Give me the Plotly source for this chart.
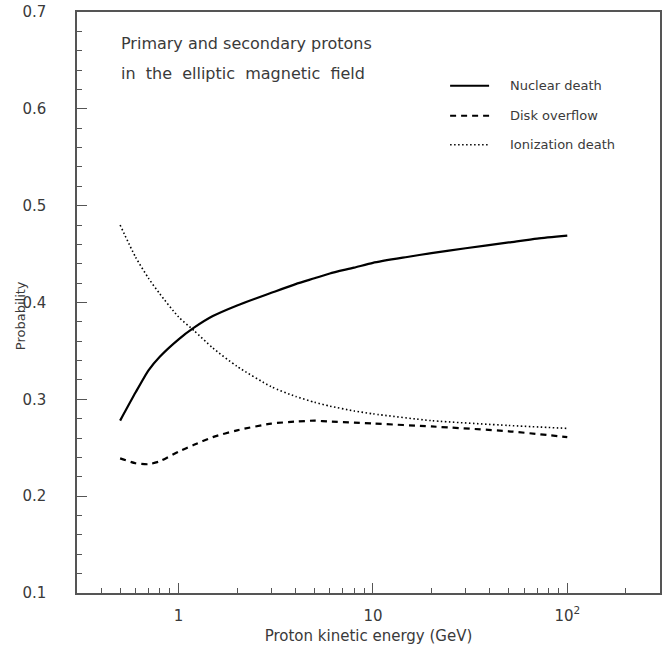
import plotly.graph_objects as go

# ---- data ----
nuclear_x = [0.5, 0.6, 0.7, 0.8, 1, 1.2, 1.5, 2, 3, 4, 5, 6, 8, 10, 15, 20, 30, 50, 70, 100]
nuclear_y = [0.278, 0.307, 0.330, 0.344, 0.362, 0.374, 0.386, 0.397, 0.410, 0.419, 0.425,
             0.430, 0.436, 0.441, 0.447, 0.451, 0.456, 0.462, 0.466, 0.469]

disk_x = [0.5, 0.6, 0.7, 0.8, 1, 1.2, 1.5, 2, 3, 4, 5, 6, 8, 10, 20, 50, 100]
disk_y = [0.239, 0.234, 0.233, 0.236, 0.246, 0.253, 0.261, 0.268, 0.275, 0.277, 0.278,
          0.277, 0.276, 0.275, 0.272, 0.267, 0.261]

ion_x = [0.5, 0.6, 0.7, 0.8, 1, 1.2, 1.5, 2, 3, 4, 5, 6, 8, 10, 20, 50, 100]
ion_y = [0.480, 0.447, 0.425, 0.409, 0.385, 0.371, 0.353, 0.334, 0.313, 0.303, 0.297,
         0.293, 0.288, 0.285, 0.278, 0.273, 0.270]

series_names = ["Nuclear death", "Disk overflow", "Ionization death"]
x_tickvals = [1, 10, 100]
x_ticktext = ["1", "10", "10<sup>2</sup>"]
y_tickvals = [0.1, 0.2, 0.3, 0.4, 0.5, 0.6, 0.7]
y_ticktext = ["0.1", "0.2", "0.3", "0.4", "0.5", "0.6", "0.7"]

FONT = "DejaVu Sans"
TXT = "#3a3a3a"
AX = "#555555"

fig = go.Figure()
fig.add_trace(go.Scatter(x=nuclear_x, y=nuclear_y, mode="lines", name=series_names[0],
                         line=dict(color="black", width=2.2, shape="spline", smoothing=0.6)))
fig.add_trace(go.Scatter(x=disk_x, y=disk_y, mode="lines", name=series_names[1],
                         line=dict(color="black", width=2.2, dash="6px,5px", shape="spline", smoothing=0.6)))
fig.add_trace(go.Scatter(x=ion_x, y=ion_y, mode="lines", name=series_names[2],
                         line=dict(color="black", width=1.6, dash="1.5px,2.5px", shape="spline", smoothing=0.6)))

PW = 660 - 76.7
PH = 593 - 12.3


def px_x(p):
    return (p - 76.7) / PW


def px_y(p):
    return (593 - p) / PH


# legend drawn manually (paper coordinates)
leg_rows = [(86, "solid", 2.2), (116, "6px,5px", 2.2), (145, "1.5px,2.5px", 1.6)]
for (yp, dash, w), name in zip(leg_rows, series_names):
    fig.add_shape(type="line", xref="paper", yref="paper", x0=px_x(450), x1=px_x(489),
                  y0=px_y(yp), y1=px_y(yp), line=dict(color="black", width=w, dash=dash))
    fig.add_annotation(xref="paper", yref="paper", x=px_x(508), y=px_y(yp), text=name, showarrow=False,
                       xanchor="left", yanchor="middle",
                       font=dict(family=FONT, size=13, color=TXT))

fig.add_annotation(xref="paper", yref="paper", x=px_x(119), y=px_y(44),
                   text="Primary and secondary protons", showarrow=False,
                   xanchor="left", yanchor="middle", font=dict(family=FONT, size=16, color=TXT))
fig.add_annotation(xref="paper", yref="paper", x=px_x(119), y=px_y(74),
                   text="in\u00a0 the\u00a0 elliptic\u00a0 magnetic\u00a0 field", showarrow=False,
                   xanchor="left", yanchor="middle", font=dict(family=FONT, size=16, color=TXT))

# y-axis title as an annotation for exact placement
fig.add_annotation(xref="paper", yref="paper", x=px_x(21), y=px_y(316),
                   text="Probability", showarrow=False, textangle=-90,
                   xanchor="center", yanchor="middle", font=dict(family=FONT, size=13, color=TXT))

fig.update_layout(
    width=664, height=649,
    margin=dict(l=77, r=4, t=12, b=56),
    paper_bgcolor="white", plot_bgcolor="white",
    showlegend=False,
    font=dict(family=FONT, color=TXT, size=14),
)
fig.update_xaxes(
    type="log", range=[-0.5229, 2.4771], automargin=False,
    tickvals=x_tickvals, ticktext=x_ticktext,
    ticks="inside", ticklen=10, tickcolor=AX, tickwidth=1,
    minor=dict(ticks="inside", ticklen=5, tickcolor=AX, tickwidth=1, dtick="D1", showgrid=False),
    showline=True, linecolor=AX, linewidth=1.5, mirror=True,
    showgrid=False, zeroline=False,
    ticklabelstandoff=8,
    tickfont=dict(family=FONT, size=15, color=TXT),
    title=dict(text="Proton kinetic energy (GeV)", font=dict(family=FONT, size=15, color=TXT), standoff=7),
)
fig.update_yaxes(
    range=[0.1, 0.7], automargin=False,
    tickvals=y_tickvals, ticktext=y_ticktext,
    ticks="inside", ticklen=10, tickcolor=AX, tickwidth=1,
    minor=dict(ticks="inside", ticklen=5, tickcolor=AX, tickwidth=1, dtick=0.02, showgrid=False),
    showline=True, linecolor=AX, linewidth=1.5, mirror=True,
    showgrid=False, zeroline=False,
    ticklabelstandoff=26,
    tickfont=dict(family=FONT, size=15, color=TXT),
)

fig.write_html("out.html")
